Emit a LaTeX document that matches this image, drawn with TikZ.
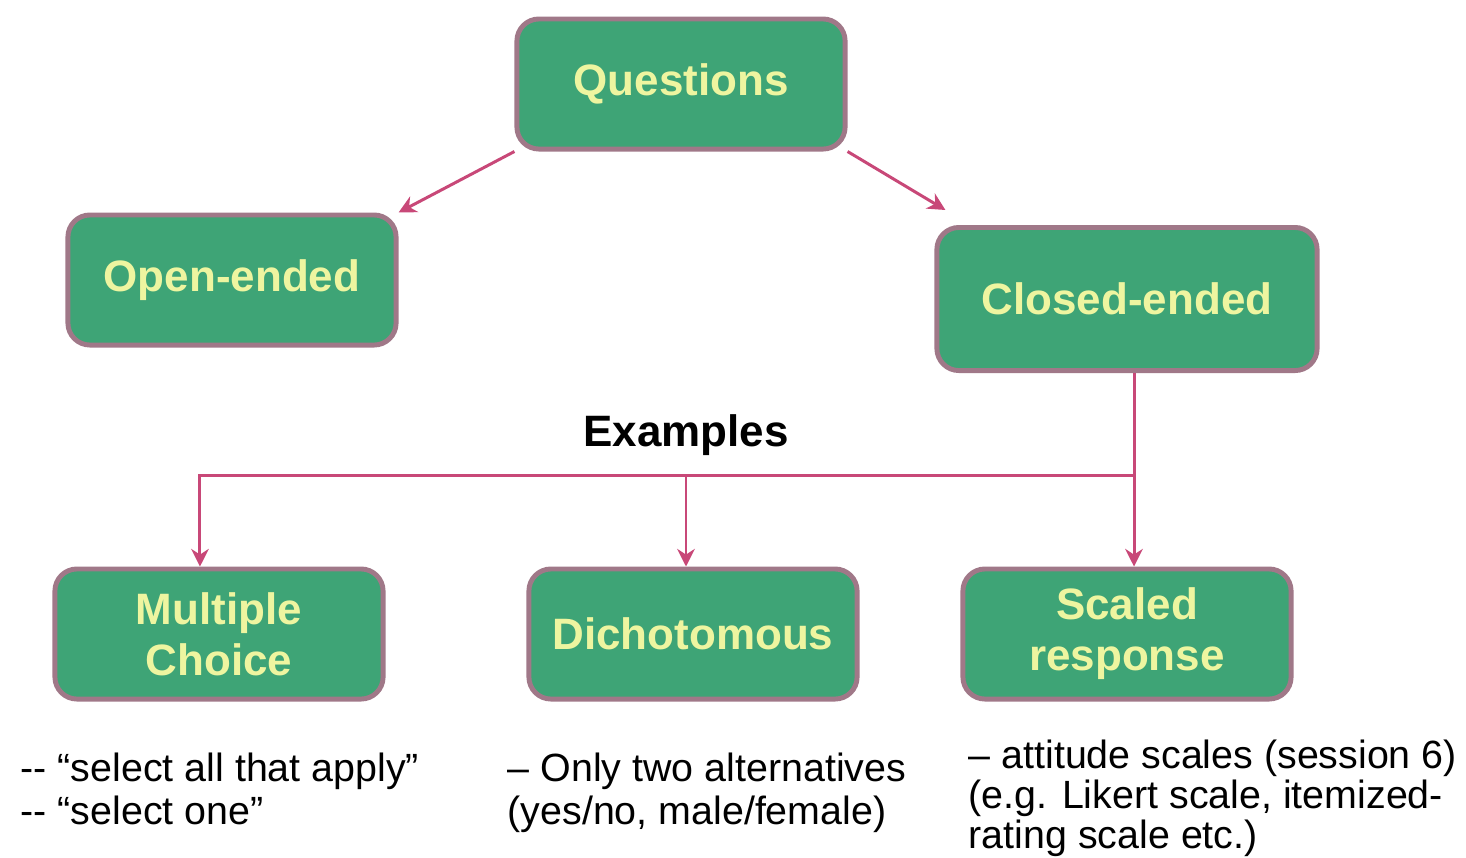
\documentclass[tikz,border=0pt]{standalone}
\usepackage{fontspec}
\setmainfont{Liberation Sans}
\usetikzlibrary{arrows.meta}
\definecolor{boxgreen}{RGB}{62,164,118}
\definecolor{boxedge}{RGB}{160,120,136}
\definecolor{boxtext}{RGB}{238,245,160}
\definecolor{linkpink}{RGB}{200,72,120}
\tikzset{
	qbox/.style={draw=boxedge, line width=1.4pt, fill=boxgreen, rounded corners=0.22cm,
		minimum width=3.28cm, minimum height=1.3cm, inner sep=0pt, align=center,
		text=boxtext, font=\fontsize{12.5}{14.5}\selectfont\bfseries},
	link/.style={draw=linkpink, line width=0.85pt, -{Stealth[length=5pt,width=5pt]}},
	note/.style={anchor=north west, align=left, inner sep=0pt, font=\fontsize{11.2}{12.2}\selectfont},
}

\begin{document}
\begin{tikzpicture}[x=0.01cm, y=-0.01cm]
			%%%%% START %%%%%
			\useasboundingbox (0,0) rectangle (1466,857);
			
			\node[qbox] (q) at (681,84) {Questions};
			\node[qbox] (oe) at (232,280) {Open-ended};
			\node[qbox, minimum width=3.8cm, minimum height=1.43cm] (ce) at (1127,299) {Closed-ended};
			
			\node[qbox] (mc) at (219,634) {Multiple\\Choice};
			\node[qbox] (dc) at (693,634) {Dichotomous};
			\node[qbox] (sr) at (1127,634) {Scaled\\response};
			
			\draw[link] (q.south west) -- (oe.north east);
			\draw[link] (q.south east) -- ([shift={(11,-15)}]ce.north west);
			
			\coordinate (bus) at (1134,475);
			\node[font=\fontsize{12.5}{14.5}\selectfont\bfseries] (ex) at (686,435) {Examples};
			\draw[link] ([xshift=0.07cm]ce.south) -- ([xshift=0.07cm]sr.north);
			\draw[link] (bus) -| ([xshift=-0.19cm]mc.north);
			\draw[link] ([xshift=-0.07cm]dc.north |- bus) -- ([xshift=-0.07cm]dc.north);
			
			\node[note] (mcnote) at (20,752) {{-}{-} “select all that apply”\\{-}{-} “select one”};
			\node[note] (dcnote) at (507,752) {-- Only two alternatives\\(yes/no, male/female)};
			\node[note, font=\fontsize{11.2}{11.4}\selectfont] (srnote) at (968,739) {-- attitude scales (session 6)\\(e.g. Likert scale, itemized-\\rating scale etc.)};
			
			%%%%% END %%%%%
\end{tikzpicture}
\end{document}
